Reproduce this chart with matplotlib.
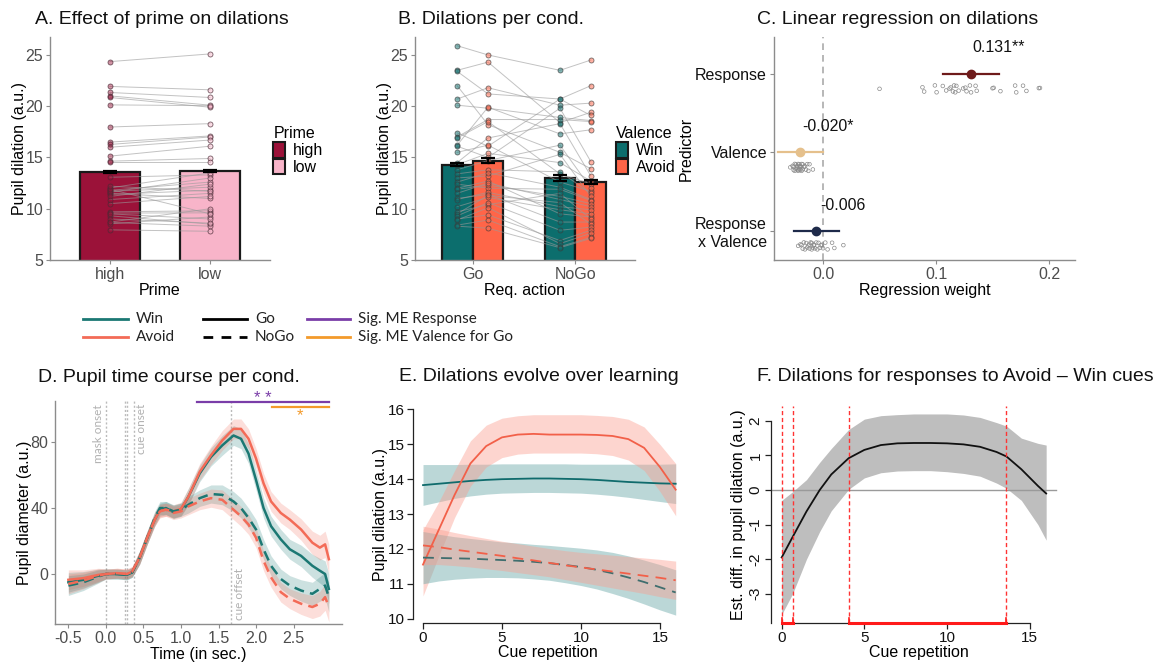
import numpy as np
import matplotlib
matplotlib.use("Agg")
import matplotlib.pyplot as plt
from matplotlib.patches import Patch
from matplotlib.colors import to_rgba

W, H = 1168, 662
plt.rcParams['font.family'] = ['Liberation Sans', 'DejaVu Sans']
plt.rcParams['axes.unicode_minus'] = False

# ---------------- Panel A data ----------------
prime_levels = ['high', 'low']
prime_means = [13.6, 13.7]
prime_se = [0.12, 0.12]
prime_high = [24.35, 21.93, 21.34, 21.01, 20.85, 20.13, 17.97, 16.5, 16.27, 16.0, 15.13, 14.64, 14.6,
              13.07, 12.03, 11.8, 11.6, 11.4, 10.9, 9.7, 9.58, 9.31, 8.66, 8.53, 7.94, 11.5, 11.7,
              11.9, 11.2, 9.5, 9.0, 8.7, 12.2, 10.5]
prime_low = [25.1, 21.6, 20.85, 20.1, 19.9, 20.05, 18.3, 17.1, 17.0, 16.7, 16.1, 14.9, 14.6,
             13.3, 13.5, 12.6, 13.0, 11.8, 11.5, 9.8, 9.6, 8.5, 8.3, 9.2, 7.8, 11.0, 12.1,
             9.5, 12.4, 9.0, 8.6, 10.0, 11.7, 11.2]

# ---------------- Panel B data ----------------
actions = ['Go', 'NoGo']
valences = ['Win', 'Avoid']
win_means = [14.3, 13.0]
avoid_means = [14.7, 12.6]
win_se = [0.15, 0.25]
avoid_se = [0.25, 0.2]
win_go = [25.9, 23.5, 23.4, 22.0, 20.7, 20.1, 17.4, 17.0, 16.9, 16.2, 16.1, 15.5, 14.5, 14.3, 13.8, 13.4,
          13.0, 12.6, 12.4, 12.0, 11.9, 11.5, 11.0, 10.9, 10.2, 9.7, 9.5, 9.3, 9.0, 8.9, 8.4, 8.3]
avoid_go = [25.0, 24.3, 21.2, 18.2, 21.8, 19.8, 16.1, 18.7, 18.5, 19.9, 15.0, 16.2, 16.9, 15.4, 14.7, 13.8,
            13.2, 13.5, 12.0, 12.7, 12.3, 12.5, 11.4, 11.6, 11.1, 10.4, 11.3, 10.6, 9.4, 10.1, 8.9, 8.1]
win_nogo = [23.5, 18.4, 20.7, 15.5, 20.1, 18.9, 20.7, 18.7, 13.4, 17.3, 19.8, 12.6, 18.3, 14.5, 16.2, 13.6,
            15.3, 12.1, 11.9, 9.5, 11.2, 10.9, 8.7, 10.2, 9.9, 11.5, 10.6, 7.9, 6.9, 6.6, 6.3, 6.2]
avoid_nogo = [24.5, 19.4, 22.0, 13.9, 20.3, 18.6, 19.1, 18.5, 12.4, 17.7, 14.6, 11.7, 13.2, 12.7, 12.0, 11.5,
              11.2, 10.9, 10.8, 9.2, 10.5, 10.2, 8.7, 9.9, 9.5, 9.0, 8.5, 8.2, 7.9, 7.6, 7.2, 7.1]

# ---------------- Panel C data ----------------
predictors = ['Response', 'Valence', 'Response\nx Valence']
coef = [0.131, -0.020, -0.006]
ci_low = [0.106, -0.040, -0.026]
ci_high = [0.156, 0.000, 0.014]
coef_labels = ['0.131**', '-0.020*', '-0.006']
subj_response = [0.050, 0.088, 0.0895, 0.099, 0.1005, 0.106, 0.109, 0.112, 0.113, 0.115, 0.116, 0.117,
                 0.118, 0.120, 0.124, 0.126, 0.127, 0.130, 0.131, 0.135, 0.136, 0.150, 0.151, 0.157,
                 0.170, 0.171, 0.177, 0.180, 0.191, 0.192]
subj_valence = [-0.029, -0.027, -0.026, -0.025, -0.025, -0.024, -0.024, -0.023, -0.023, -0.022, -0.022,
                -0.022, -0.021, -0.021, -0.020, -0.020, -0.020, -0.019, -0.019, -0.018, -0.018, -0.017,
                -0.016, -0.015, -0.014, -0.013, -0.012, -0.009, -0.026, -0.021]
subj_interaction = [-0.022, -0.020, -0.018, -0.017, -0.016, -0.015, -0.014, -0.013, -0.012, -0.012,
                    -0.011, -0.010, -0.010, -0.009, -0.008, -0.008, -0.007, -0.006, -0.005, -0.004,
                    -0.003, -0.002, -0.001, 0.000, 0.002, 0.004, 0.008, 0.010, 0.018, -0.019]

# ---------------- Panel D data ----------------
time_s = [-0.5, -0.3, -0.1, 0.0, 0.15, 0.28, 0.35, 0.45, 0.55, 0.65, 0.72, 0.8, 0.9, 1.0, 1.1, 1.25,
          1.4, 1.55, 1.7, 1.8, 1.9, 2.0, 2.1, 2.2, 2.33, 2.45, 2.6, 2.75, 2.85, 2.92, 2.97]
tc_win_go = [-5, -3.5, -1, 0, 0, -0.5, 1, 10, 22, 33, 39, 40, 37.5, 39, 47, 61, 71, 78, 84, 82, 73, 57,
             40, 29, 21, 15, 11, 5, 2, 0, -9]
tc_avoid_go = [-3.5, -2.5, -0.5, 0, 0.5, 0, 1.5, 10, 22, 33, 38.5, 39, 38, 39.5, 47, 62, 72, 81, 88, 88,
               82, 70, 55, 44, 37, 33, 27, 19, 16, 18, 9]
tc_win_nogo = [-7, -5, -1.5, 0, 0, -0.5, 1, 10, 22, 34, 40, 40, 38, 39, 42, 46, 48.5, 48, 44, 40, 34,
               27, 15, 5, -3, -7, -10, -12, -9, -7, -14]
tc_avoid_nogo = [-6, -4, -1, 0, 0.5, 0, 1.5, 10, 22, 33, 38, 39, 37, 38, 41, 44, 46, 45, 39, 35, 30, 22,
                 8, -2, -11, -15, -18, -20, -18, -14, -20]
tc_se = [6, 5, 4, 3, 3, 3, 3, 4, 4, 4, 4, 4, 4, 4, 5, 5, 5.5, 6, 6, 6, 6, 6, 6, 6, 6, 6, 6.5, 7, 7.5, 8, 9]
event_times = [0.0, 0.25, 0.28, 0.375, 1.667]
sig_response = [1.22, 2.97]
sig_valence_go = [2.21, 2.97]

# ---------------- Panel E data ----------------
cue_rep = list(range(17))
e_avoid_go = [11.55, 12.55, 13.55, 14.45, 14.95, 15.2, 15.28, 15.3, 15.28, 15.28, 15.28, 15.27, 15.24,
              15.15, 14.9, 14.35, 13.7]
e_avoid_go_lo = [10.65, 11.8, 12.9, 13.8, 14.35, 14.62, 14.72, 14.75, 14.75, 14.75, 14.75, 14.73, 14.68,
                 14.55, 14.25, 13.65, 12.95]
e_avoid_go_hi = [12.55, 13.35, 14.25, 15.1, 15.55, 15.75, 15.82, 15.85, 15.85, 15.85, 15.85, 15.83, 15.8,
                 15.72, 15.5, 15.0, 14.45]
e_win_go = [13.83, 13.87, 13.91, 13.95, 13.98, 14.0, 14.01, 14.02, 14.02, 14.01, 14.0, 13.98, 13.95,
            13.92, 13.9, 13.88, 13.87]
e_win_go_lo = [13.25, 13.35, 13.45, 13.52, 13.57, 13.6, 13.61, 13.62, 13.62, 13.61, 13.6, 13.57, 13.53,
               13.48, 13.42, 13.36, 13.3]
e_win_go_hi = [14.42, 14.42, 14.42, 14.43, 14.43, 14.44, 14.44, 14.44, 14.44, 14.44, 14.43, 14.43, 14.43,
               14.43, 14.43, 14.43, 14.44]
e_avoid_nogo = [12.1, 12.05, 11.98, 11.92, 11.86, 11.8, 11.73, 11.67, 11.6, 11.53, 11.47, 11.41, 11.35,
                11.29, 11.23, 11.17, 11.1]
e_avoid_nogo_lo = [11.55, 11.55, 11.52, 11.48, 11.43, 11.38, 11.32, 11.26, 11.2, 11.12, 11.04, 10.96,
                   10.88, 10.8, 10.72, 10.63, 10.55]
e_avoid_nogo_hi = [12.65, 12.57, 12.47, 12.38, 12.3, 12.22, 12.15, 12.08, 12.01, 11.95, 11.9, 11.86,
                   11.82, 11.78, 11.74, 11.7, 11.65]
e_win_nogo = [11.75, 11.74, 11.73, 11.72, 11.7, 11.68, 11.66, 11.63, 11.59, 11.54, 11.48, 11.4, 11.3,
              11.18, 11.05, 10.9, 10.75]
e_win_nogo_lo = [11.0, 11.08, 11.13, 11.16, 11.18, 11.18, 11.17, 11.14, 11.1, 11.03, 10.95, 10.85, 10.72,
                 10.58, 10.42, 10.25, 10.1]
e_win_nogo_hi = [12.5, 12.42, 12.35, 12.3, 12.25, 12.2, 12.17, 12.13, 12.1, 12.06, 12.02, 11.97, 11.9,
                 11.8, 11.68, 11.55, 11.4]

# ---------------- Panel F data ----------------
f_rep = [0, 0.66, 1.5, 2.3, 3, 4.05, 5, 6, 7, 8, 9, 10, 11, 12, 13, 13.6, 14.5, 15.5, 16]
f_est = [-1.95, -1.36, -0.62, 0.0, 0.45, 0.92, 1.16, 1.3, 1.35, 1.36, 1.36, 1.35, 1.32, 1.25, 1.1, 0.97,
         0.6, 0.12, -0.1]
f_lo = [-3.6, -3.0, -2.0, -1.2, -0.6, 0.02, 0.35, 0.5, 0.55, 0.56, 0.56, 0.53, 0.48, 0.4, 0.2, 0.05,
        -0.3, -1.0, -1.45]
f_hi = [-0.3, -0.05, 0.3, 0.8, 1.2, 1.75, 2.05, 2.15, 2.18, 2.2, 2.2, 2.2, 2.17, 2.1, 1.95, 1.85, 1.5,
        1.35, 1.3]
f_sig_windows = [(0.0, 0.66), (4.05, 13.6)]

# ---------------- styling ----------------
GRAY_TXT = '#4D4D4D'
AX_GRAY = '#8C8C8C'
TEAL = '#0C6E6D'
TOMATO = '#FF6548'
D_TEAL = '#1B7873'
D_SALMON = '#F36B57'
PURPLE = '#7A3DA8'
ORANGE = '#F39A2B'

fig = plt.figure(figsize=(W / 100, H / 100), dpi=100)


def axpx(l, t, r, b):
    return fig.add_axes([l / W, 1 - b / H, (r - l) / W, (b - t) / H])


def gg_style(ax):
    for s in ['top', 'right']:
        ax.spines[s].set_visible(False)
    for s in ['left', 'bottom']:
        ax.spines[s].set_color(AX_GRAY)
        ax.spines[s].set_linewidth(1.0)
    ax.tick_params(colors=AX_GRAY, labelcolor=GRAY_TXT, labelsize=11.5, length=3, width=0.8, pad=2)
    ax.set_facecolor('none')


def title(x, y, s):
    fig.text(x / W, 1 - y / H, s, fontsize=14, ha='left', va='center', color='#111111')


# ================= Panel A =================
axA = axpx(50, 37, 270, 260)
gg_style(axA)
xA = np.arange(len(prime_levels))
colA = ['#9B1239', '#F8B4C9']
axA.bar(xA, prime_means, width=0.6, color=colA, edgecolor='#1a1a1a', linewidth=1.6, zorder=1)
for hv, lv in zip(prime_high, prime_low):
    axA.plot(xA, [hv, lv], color='#9A9A9A', alpha=0.6, lw=0.7, zorder=2)
for i, vals in enumerate([prime_high, prime_low]):
    axA.scatter(np.full(len(vals), xA[i]), vals, s=13, facecolor=to_rgba(colA[i], 0.45),
                edgecolor=to_rgba('#4a2a35', 0.75), linewidth=0.6, zorder=3)
axA.errorbar(xA, prime_means, yerr=prime_se, fmt='none', ecolor='black', elinewidth=1.6, capsize=5,
             capthick=1.6, zorder=4)
axA.set_xlim(-0.6, 1.6)
axA.set_ylim(5, 26.75)
axA.set_yticks([5, 10, 15, 20, 25])
axA.set_xticks(xA, prime_levels)
axA.set_xlabel('Prime', fontsize=11.5, labelpad=1)
axA.set_ylabel('Pupil dilation (a.u.)', fontsize=11.5, labelpad=-1)
title(35, 20, 'A. Effect of prime on dilations')
fig.legend(handles=[Patch(facecolor=c, edgecolor='#1a1a1a', linewidth=1.5, label=l)
                    for c, l in zip(colA, prime_levels)],
           title='Prime', loc='upper left', bbox_to_anchor=(259 / W, 1 - 112 / H), frameon=False,
           fontsize=11.5, title_fontsize=11.5, handlelength=0.75, handleheight=1.1, handletextpad=0.5,
           labelspacing=0.05, alignment='left')

# ================= Panel B =================
axB = axpx(415, 37, 635, 260)
gg_style(axB)
xB = np.arange(len(actions))
off = 0.15
axB.bar(xB - off, win_means, width=0.3, color=TEAL, edgecolor='#1a1a1a', linewidth=1.6, zorder=1)
axB.bar(xB + off, avoid_means, width=0.3, color=TOMATO, edgecolor='#1a1a1a', linewidth=1.6, zorder=1)
posB = [xB[0] - off, xB[0] + off, xB[1] - off, xB[1] + off]
for a, b, c, d in zip(win_go, avoid_go, win_nogo, avoid_nogo):
    axB.plot(posB, [a, b, c, d], color='#9A9A9A', alpha=0.6, lw=0.7, zorder=2)
for p, vals, col in zip(posB, [win_go, avoid_go, win_nogo, avoid_nogo], [TEAL, TOMATO, TEAL, TOMATO]):
    axB.scatter(np.full(len(vals), p), vals, s=13, facecolor=to_rgba(col, 0.5),
                edgecolor=to_rgba('#3a3a3a', 0.7), linewidth=0.6, zorder=3)
axB.errorbar(xB - off, win_means, yerr=win_se, fmt='none', ecolor='black', elinewidth=1.6, capsize=5,
             capthick=1.6, zorder=4)
axB.errorbar(xB + off, avoid_means, yerr=avoid_se, fmt='none', ecolor='black', elinewidth=1.6, capsize=5,
             capthick=1.6, zorder=4)
axB.set_xlim(-0.56, 1.58)
axB.set_ylim(5, 26.75)
axB.set_yticks([5, 10, 15, 20, 25])
axB.set_xticks(xB, actions)
axB.set_xlabel('Req. action', fontsize=11.5, labelpad=1)
axB.set_ylabel('Pupil dilation (a.u.)', fontsize=11.5, labelpad=-1)
title(398, 20, 'B. Dilations per cond.')
fig.legend(handles=[Patch(facecolor=c, edgecolor='#1a1a1a', linewidth=1.5, label=l)
                    for c, l in zip([TEAL, TOMATO], valences)],
           title='Valence', loc='upper left', bbox_to_anchor=(602 / W, 1 - 112 / H), frameon=False,
           fontsize=11.5, title_fontsize=11.5, handlelength=0.75, handleheight=1.1, handletextpad=0.5,
           labelspacing=0.05, alignment='left')

# ================= Panel C =================
axC = axpx(774, 37, 1075, 260)
gg_style(axC)
yC = [3, 2, 1]
colC = ['#6E1A1A', '#E5C08C', '#1E2A4A']
axC.axvline(0, color='#AAAAAA', ls=(0, (4, 3)), lw=1.2, zorder=0)
for yy, subj in zip(yC, [subj_response, subj_valence, subj_interaction]):
    n = len(subj)
    jit = -0.19 + 0.045 * np.sin(np.arange(n) * 2.7)
    axC.scatter(subj, yy + jit, s=7, facecolor='none', edgecolor='#8A8A8A', linewidth=0.5, zorder=2)
for yy, c, lo, hi, col, lab in zip(yC, coef, ci_low, ci_high, colC, coef_labels):
    axC.plot([lo, hi], [yy, yy], color=col, lw=1.6, zorder=3)
    axC.plot([c], [yy], 'o', color=col, ms=6, zorder=4)
    axC.text(c + 0.024, yy + 0.33, lab, ha='center', va='center', fontsize=11.5, color='#111111')
axC.set_xlim(-0.0434, 0.223)
axC.set_ylim(0.63, 3.47)
axC.set_yticks(yC, predictors)
axC.tick_params(axis='y', labelcolor='#111111', labelsize=11.5)
axC.set_xticks([0.0, 0.1, 0.2], ['0.0', '0.1', '0.2'])
axC.set_xlabel('Regression weight', fontsize=11.5, labelpad=1)
axC.set_ylabel('Predictor', fontsize=11.5, labelpad=1)
title(757, 20, 'C. Linear regression on dilations')

# ================= Panel D =================
axD = axpx(55, 401, 342, 624)
gg_style(axD)
for et in event_times:
    axD.axvline(et, color='#BBBBBB', ls=(0, (1.5, 1.5)), lw=1.0, zorder=0)
tD = np.array(time_s)
seD = np.array(tc_se)
series_D = [(tc_win_go, D_TEAL, '-'), (tc_avoid_go, D_SALMON, '-'),
            (tc_win_nogo, D_TEAL, (0, (4, 2.5))), (tc_avoid_nogo, D_SALMON, (0, (4, 2.5)))]
for vals, col, ls in series_D:
    v = np.array(vals, dtype=float)
    axD.fill_between(tD, v - seD, v + seD, color=col, alpha=0.22, lw=0, zorder=1)
for vals, col, ls in series_D:
    axD.plot(tD, vals, color=col, ls=ls, lw=1.8, zorder=2)
axD.plot(sig_response, [104.2, 104.2], color=PURPLE, lw=1.6, clip_on=False)
axD.plot(sig_valence_go, [101.4, 101.4], color=ORANGE, lw=1.6, clip_on=False)
axD.text(2.09, 106.5, '* *', color=PURPLE, ha='center', va='center', fontsize=12, clip_on=False)
axD.text(2.59, 96.0, '*', color=ORANGE, ha='center', va='center', fontsize=12)
annot = dict(rotation=90, color='#B0B0B0', fontsize=8.5, family=['Lato', 'DejaVu Sans'])
axD.text(-0.1, 103, 'mask onset', ha='center', va='top', **annot)
axD.text(0.47, 103, 'cue onset', ha='center', va='top', **annot)
axD.text(1.78, -28, 'cue offset', ha='center', va='bottom', **annot)
axD.set_xlim(-0.678, 3.145)
axD.set_ylim(-30.3, 104.9)
axD.set_yticks([0, 40, 80])
axD.set_xticks([-0.5, 0.0, 0.5, 1.0, 1.5, 2.0, 2.5], ['-0.5', '0.0', '0.5', '1.0', '1.5', '2.0', '2.5'])
axD.set_xlabel('Time (in sec.)', fontsize=11.5, labelpad=1)
axD.set_ylabel('Pupil diameter (a.u.)', fontsize=11.5, labelpad=-1)
title(38, 378, 'D. Pupil time course per cond.')


def base_style(ax):
    for s in ['top', 'right']:
        ax.spines[s].set_visible(False)
    for s in ['left', 'bottom']:
        ax.spines[s].set_color('#222222')
        ax.spines[s].set_linewidth(0.9)
    ax.tick_params(colors='#222222', labelcolor='#111111', labelsize=11, length=4, width=0.9, pad=2)
    ax.set_facecolor('none')


# ================= Panel E =================
axE = axpx(413, 406, 682, 623)
base_style(axE)
xE = np.array(cue_rep)
E_TEAL = '#0F6B6C'
E_SAL = '#F26049'
for lo, hi, col, a in [(e_win_go_lo, e_win_go_hi, '#68A8A8', 0.45),
                       (e_avoid_go_lo, e_avoid_go_hi, '#FB9D8E', 0.42),
                       (e_win_nogo_lo, e_win_nogo_hi, '#68A8A8', 0.45),
                       (e_avoid_nogo_lo, e_avoid_nogo_hi, '#FB9D8E', 0.42)]:
    axE.fill_between(xE, lo, hi, color=col, alpha=a, lw=0)
axE.plot(xE, e_win_go, color=E_TEAL, lw=1.3)
axE.plot(xE, e_avoid_go, color=E_SAL, lw=1.3)
axE.plot(xE, e_win_nogo, color='#3F6E6E', lw=1.3, ls=(0, (6, 4)))
axE.plot(xE, e_avoid_nogo, color=E_SAL, lw=1.3, ls=(0, (6, 4)))
axE.set_xlim(-0.634, 16.4)
axE.set_ylim(9.874, 16.1)
axE.spines['left'].set_bounds(10, 16)
axE.spines['bottom'].set_bounds(0, 15)
axE.set_yticks([10, 11, 12, 13, 14, 15, 16])
axE.set_xticks([0, 5, 10, 15])
axE.set_xlabel('Cue repetition', fontsize=11.5, labelpad=0)
axE.set_ylabel('Pupil dilation (a.u.)', fontsize=11.5, labelpad=0)
title(399, 376, 'E. Dilations evolve over learning')

# ================= Panel F =================
axF = axpx(771, 406, 1066, 623)
base_style(axF)
axF.fill_between(f_rep, f_lo, f_hi, color='#BEBEBE', lw=0, zorder=1)
axF.axhline(0, xmin=0, xmax=(16.6 + 0.646) / (17.2 + 0.646), color='#9A9A9A', lw=1.0, zorder=2)
axF.plot(f_rep, f_est, color='#111111', lw=1.3, zorder=3)
for a, b in f_sig_windows:
    for xv in (a, b):
        axF.axvline(xv, color='#FF3333', ls=(0, (3, 2)), lw=1.0, zorder=4)
    axF.plot([a, b], [-3.846, -3.846], color='#FF1A1A', lw=2.2, zorder=5, clip_on=False)
    for xv in (a, b):
        axF.plot([xv, xv], [-3.846, -3.70], color='#FF1A1A', lw=1.2, zorder=5, clip_on=False)
axF.set_xlim(-0.646, 17.2)
axF.set_ylim(-3.846, 2.43)
axF.spines['left'].set_bounds(-3.846, 2)
axF.spines['bottom'].set_bounds(0, 15)
axF.set_yticks([-3, -2, -1, 0, 1, 2])
for lab in axF.get_yticklabels():
    lab.set_rotation(90)
    lab.set_va('center')
axF.set_xticks([0, 5, 10, 15])
axF.set_xlabel('Cue repetition', fontsize=11.5, labelpad=0)
axF.set_ylabel('Est. diff. in pupil dilation (a.u.)', fontsize=11.5, labelpad=2)
title(757, 376, 'F. Dilations for responses to Avoid \u2013 Win cues')

# ================= shared legend =================
ov = fig.add_axes([0, 0, 1, 1])
ov.set_xlim(0, W)
ov.set_ylim(H, 0)
ov.axis('off')
leg_font = dict(fontsize=11, va='center', ha='left', family=['Lato', 'DejaVu Sans'], color='#222222')
rows = [319, 337]
cols = [(83, 128, 136), (203, 247, 255), (307, 350, 358)]
items = [[('Win', D_TEAL, '-'), ('Avoid', D_SALMON, '-')],
         [('Go', 'black', '-'), ('NoGo', 'black', (0, (3.5, 3)))],
         [('Sig. ME Response', PURPLE, '-'), ('Sig. ME Valence for Go', ORANGE, '-')]]
for (x0, x1, xt), col_items in zip(cols, items):
    for yy, (lab, c, ls) in zip(rows, col_items):
        ov.plot([x0, x1], [yy, yy], color=c, ls=ls, lw=2.0)
        ov.text(xt, yy, lab, **leg_font)

fig.savefig('out.png', dpi=100)
